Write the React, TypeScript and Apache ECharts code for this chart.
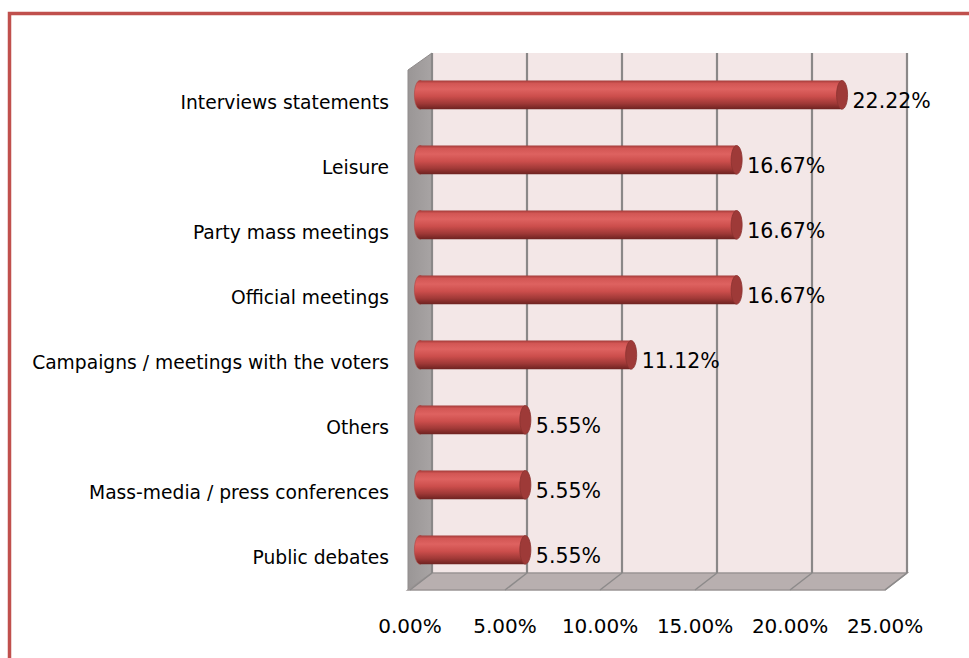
import React, { useEffect, useRef } from "react";
import * as echarts from "echarts";

const CATEGORIES = [
  "Interviews statements",
  "Leisure",
  "Party mass meetings",
  "Official meetings",
  "Campaigns / meetings with the voters",
  "Others",
  "Mass-media / press conferences",
  "Public debates",
];
const VALUES = [22.22, 16.67, 16.67, 16.67, 11.12, 5.55, 5.55, 5.55];
const TICKS = [0, 5, 10, 15, 20, 25];

const FONT = "DejaVu Sans";
const DX = 22;
const DY = -17;
const DEPTH = 0.45;

export default function App() {
  const ref = useRef<HTMLDivElement>(null);
  useEffect(() => {
    if (!ref.current) return;
    const chart = echarts.init(ref.current, undefined, { renderer: "svg" });

    const barGrad = () =>
      new echarts.graphic.LinearGradient(0, 0, 0, 1, [
        { offset: 0, color: "#a33b39" },
        { offset: 0.1, color: "#d25654" },
        { offset: 0.3, color: "#de6260" },
        { offset: 0.55, color: "#cc4e4c" },
        { offset: 0.8, color: "#a03937" },
        { offset: 1, color: "#6e2321" },
      ]);

    const option: any = {
      animation: false,
      backgroundColor: "#ffffff",
      grid: { left: 410, top: 70, width: 475, height: 520, containLabel: false },
      xAxis: {
        type: "value",
        min: 0,
        max: 25,
        interval: 5,
        axisLine: { show: false },
        axisTick: { show: false },
        splitLine: { show: false },
        axisLabel: {
          formatter: (v: number) => v.toFixed(2) + "%",
          fontSize: 20,
          fontFamily: FONT,
          color: "#000",
          margin: 26,
        },
      },
      yAxis: {
        type: "category",
        data: CATEGORIES,
        inverse: true,
        axisLine: { show: false },
        axisTick: { show: false },
        splitLine: { show: false },
        axisLabel: { fontSize: 18.7, fontFamily: FONT, color: "#000", margin: 21 },
      },
      graphic: [
        {
          type: "rect",
          shape: { x: 9.5, y: 13.5, width: 1200, height: 900 },
          style: { fill: "none", stroke: "#c0504d", lineWidth: 3.5 },
          z: 100,
        },
      ],
      series: [
        {
          type: "custom",
          name: "frame",
          clip: false,
          silent: true,
          z: 1,
          data: TICKS.map((t) => [t, 0]),
          renderItem: (params: any, api: any) => {
            const cs = params.coordSys;
            const x = api.coord([api.value(0), 0])[0];
            const bottom = cs.y + cs.height;
            const children: any[] = [];
            if (params.dataIndex === 0) {
              children.push({
                type: "rect",
                shape: { x: cs.x + DX, y: cs.y + DY, width: cs.width, height: cs.height },
                style: { fill: "#f3e7e7" },
              });
              children.push({
                type: "polygon",
                shape: {
                  points: [
                    [cs.x - 2, cs.y],
                    [cs.x + DX, cs.y + DY],
                    [cs.x + DX, bottom + DY],
                    [cs.x - 2, bottom],
                  ],
                },
                style: {
                  fill: new echarts.graphic.LinearGradient(0, 0, 1, 0, [
                    { offset: 0, color: "#9a9696" },
                    { offset: 1, color: "#a8a4a4" },
                  ]),
                  stroke: "#8f8b8b",
                  lineWidth: 1,
                },
              });
              children.push({
                type: "polygon",
                shape: {
                  points: [
                    [cs.x - 2, bottom],
                    [cs.x + cs.width, bottom],
                    [cs.x + cs.width + DX, bottom + DY],
                    [cs.x + DX, bottom + DY],
                  ],
                },
                style: { fill: "#b8afaf", stroke: "#9b9595", lineWidth: 1.5 },
              });
            }
            children.push({
              type: "line",
              shape: { x1: x + DX, y1: cs.y + DY, x2: x + DX, y2: bottom + DY },
              style: { stroke: "#8a8888", lineWidth: 2.2 },
            });
            children.push({
              type: "line",
              shape: { x1: x, y1: bottom, x2: x + DX, y2: bottom + DY },
              style: { stroke: "#8c8a8a", lineWidth: 1.5 },
            });
            return { type: "group", children };
          },
        },
        {
          type: "custom",
          name: "bars",
          clip: false,
          z: 5,
          data: VALUES.map((v, i) => [v, i]),
          renderItem: (params: any, api: any) => {
            const v = api.value(0);
            const i = api.value(1);
            const start = api.coord([0, i]);
            const end = api.coord([v, i]);
            const band = api.size([0, 1])[1];
            const h = band * 0.44;
            const fx = DX * DEPTH;
            const fy = DY * DEPTH;
            const cy = start[1] + fy;
            const x0 = start[0] + fx;
            const x1 = end[0] + fx;
            const rx = 5.5;
            return {
              type: "group",
              children: [
                {
                  type: "ellipse",
                  shape: { cx: x0, cy, rx, ry: h / 2 },
                  style: { fill: barGrad(), stroke: "#b04442", lineWidth: 0.6 },
                },
                {
                  type: "rect",
                  shape: { x: x0, y: cy - h / 2, width: x1 - x0, height: h },
                  style: { fill: barGrad() },
                },
                {
                  type: "ellipse",
                  shape: { cx: x1, cy, rx, ry: h / 2 },
                  style: { fill: "#9e3a38", stroke: "#8a3230", lineWidth: 0.8 },
                },
                {
                  type: "text",
                  style: {
                    text: v.toFixed(2) + "%",
                    x: x1 + rx + 5,
                    y: cy + 6,
                    align: "left",
                    verticalAlign: "middle",
                    fontSize: 20.5,
                    fontFamily: FONT,
                    fill: "#000",
                  },
                },
              ],
            };
          },
        },
      ],
    };
    chart.setOption(option);
    return () => chart.dispose();
  }, []);
  return (
    <div
      ref={ref}
      style={{ position: "fixed", left: 0, top: 0, width: 969, height: 658 }}
    />
  );
}
